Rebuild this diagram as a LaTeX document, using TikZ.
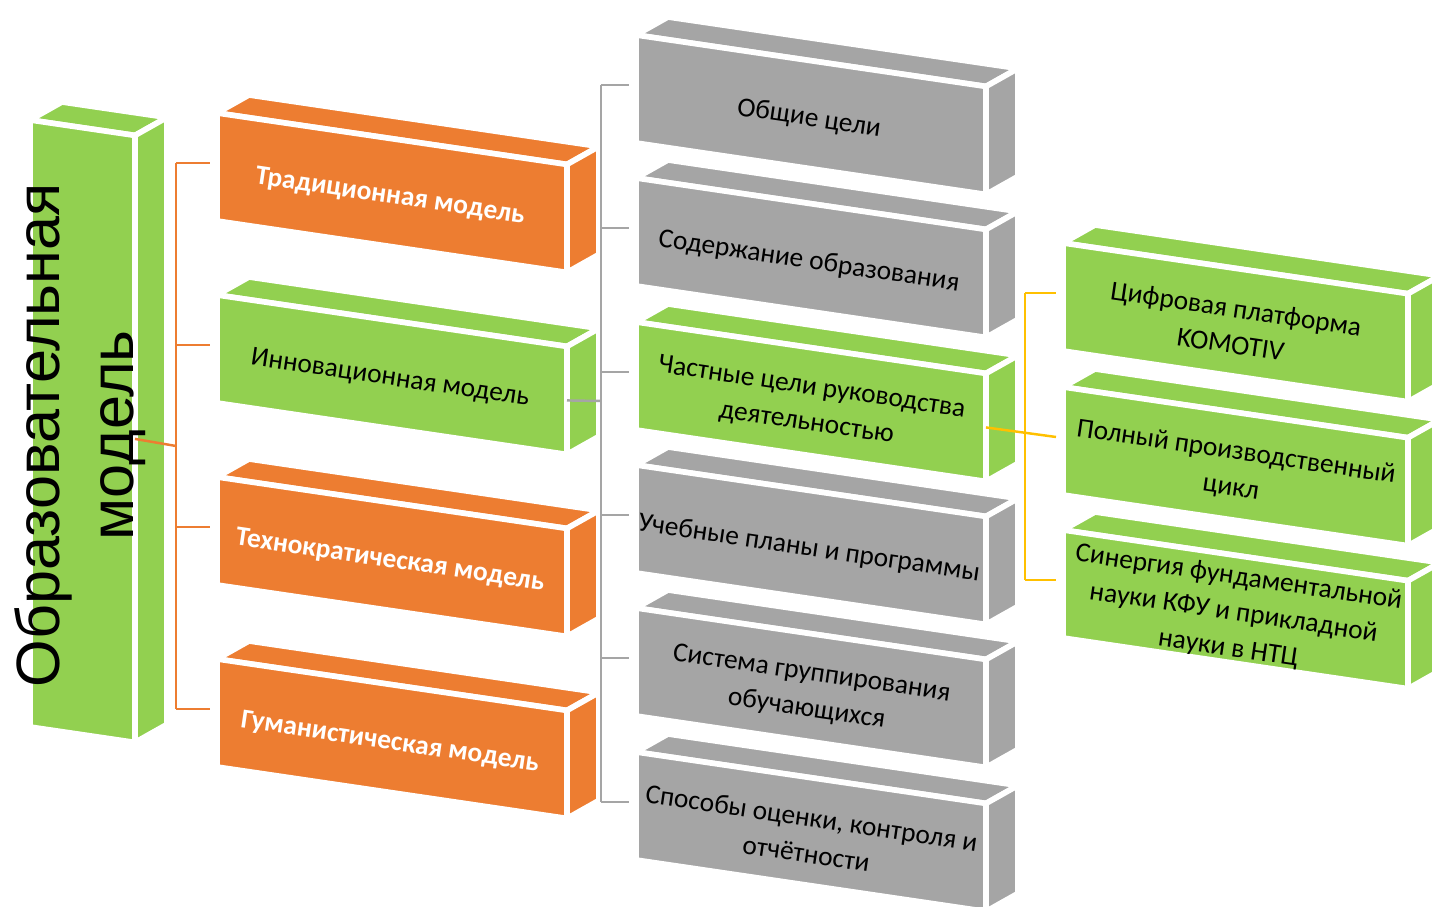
\documentclass[tikz,border=0pt]{standalone}
\usepackage{fontspec}
\setmainfont{Carlito}
\newfontfamily\arialfont{Liberation Sans}
\usepackage{tikz}
\usetikzlibrary{calc}

\definecolor{oranzh}{HTML}{ED7D31}
\definecolor{zelen}{HTML}{92D050}
\definecolor{sery}{HTML}{A5A5A5}
\definecolor{zholt}{HTML}{FFC000}

\tikzset{
  face/.style={draw=white,line width=1.6pt,line join=round},
  otxt/.style={text=white,font=\fontsize{7.8}{10.2}\selectfont\bfseries,align=center,rotate=-8.4},
  gtxt/.style={text=black,font=\fontsize{7.8}{10.2}\selectfont,align=center,rotate=-8.4},
  bigtxt/.style={text=black,font=\arialfont\fontsize{17.4}{21}\selectfont,align=center,rotate=90},
  oline/.style={draw=oranzh,line width=0.7pt},
  gline/.style={draw=sery,line width=0.7pt},
  yline/.style={draw=zholt,line width=0.7pt}
}

% box: name, top-left corner, width, height, colour, text style, text
\newcommand{\blok}[7]{%
  \path (#2) coordinate (#1-a)
    ++(#3,{0.147*#3}) coordinate (#1-b)
    ++(0,#4) coordinate (#1-c)
    ++(-#3,{-0.147*#3}) coordinate (#1-d);
  \filldraw[face,fill=#5] (#1-a) -- (#1-b) -- ++(32,-18) -- ($(#1-a)+(32,-18)$) -- cycle;
  \filldraw[face,fill=#5] (#1-b) -- ++(32,-18) -- ($(#1-c)+(32,-18)$) -- (#1-c) -- cycle;
  \filldraw[face,fill=#5] (#1-a) -- (#1-b) -- (#1-c) -- (#1-d) -- cycle;
  \coordinate (#1-e) at ($(#1-b)!0.5!(#1-c)$);
  \coordinate (#1-l) at ($(#1-a)+(-7,50)$);
  \node[#6] (#1) at ($(#1-a)!0.5!(#1-c)+(-2,4)$) {#7};
}

\begin{document}
\begin{tikzpicture}[x=0.01cm,y=-0.01cm]
        \useasboundingbox (0,0) rectangle (1432,907);
        \clip (0,0) rectangle (1432,907);

        % left column
        \blok{obr}{30,120}{105}{607}{zelen}{bigtxt}{Образовательная\\модель}

        % models
        \blok{trad}{217,113}{350}{108}{oranzh}{otxt}{Традиционная модель}
        \blok{innov}{217,295}{350}{108}{zelen}{gtxt}{Инновационная модель}
        \blok{tehno}{217,477}{350}{108}{oranzh}{otxt}{Технократическая модель}
        \blok{gum}{217,659}{350}{108}{oranzh}{otxt}{Гуманистическая модель}

        % components
        \blok{obsh}{636,35}{350}{108}{sery}{gtxt}{Общие цели}
        \blok{soder}{636,178}{350}{108}{sery}{gtxt}{Содержание образования}
        \blok{chast}{636,322}{350}{108}{zelen}{gtxt}{Частные цели руководства\\деятельностью}
        \blok{ucheb}{636,465}{350}{108}{sery}{gtxt}{Учебные планы и программы}
        \blok{sist}{636,608}{350}{108}{sery}{gtxt}{Система группирования\\обучающихся}
        \blok{sposob}{636,752}{350}{108}{sery}{gtxt}{Способы оценки, контроля и\\отчётности}

        % KFU
        \blok{cifr}{1063,243}{345}{108}{zelen}{gtxt}{Цифровая платформа\\KOMOTIV}
        \blok{poln}{1063,387}{345}{108}{zelen}{gtxt}{Полный производственный\\цикл}
        \blok{sin}{1063,530}{345}{108}{zelen}{gtxt}{Синергия фундаментальной\\науки КФУ и прикладной\\науки в НТЦ}

        % orange bracket
        \coordinate (osp) at (176,446);
        \draw[oline] (obr-e) -- (osp);
        \draw[oline] (trad-l -| osp) -- (gum-l -| osp);
        \draw[oline] (trad-l -| osp) -- (trad-l);
        \draw[oline] (innov-l -| osp) -- (innov-l);
        \draw[oline] (tehno-l -| osp) -- (tehno-l);
        \draw[oline] (gum-l -| osp) -- (gum-l);

        % grey bracket
        \coordinate (gsp) at (601,401);
        \draw[gline] (innov-e) -- (gsp);
        \draw[gline] (obsh-l -| gsp) -- (sposob-l -| gsp);
        \draw[gline] (obsh-l -| gsp) -- (obsh-l);
        \draw[gline] (soder-l -| gsp) -- (soder-l);
        \draw[gline] (chast-l -| gsp) -- (chast-l);
        \draw[gline] (ucheb-l -| gsp) -- (ucheb-l);
        \draw[gline] (sist-l -| gsp) -- (sist-l);
        \draw[gline] (sposob-l -| gsp) -- (sposob-l);

        % yellow bracket
        \coordinate (ysp) at (1025,433);
        \draw[yline] (chast-e) -- (poln-l);
        \draw[yline] (cifr-l -| ysp) -- (sin-l -| ysp);
        \draw[yline] (cifr-l -| ysp) -- (cifr-l);
        \draw[yline] (sin-l -| ysp) -- (sin-l);
\end{tikzpicture}
\end{document}
